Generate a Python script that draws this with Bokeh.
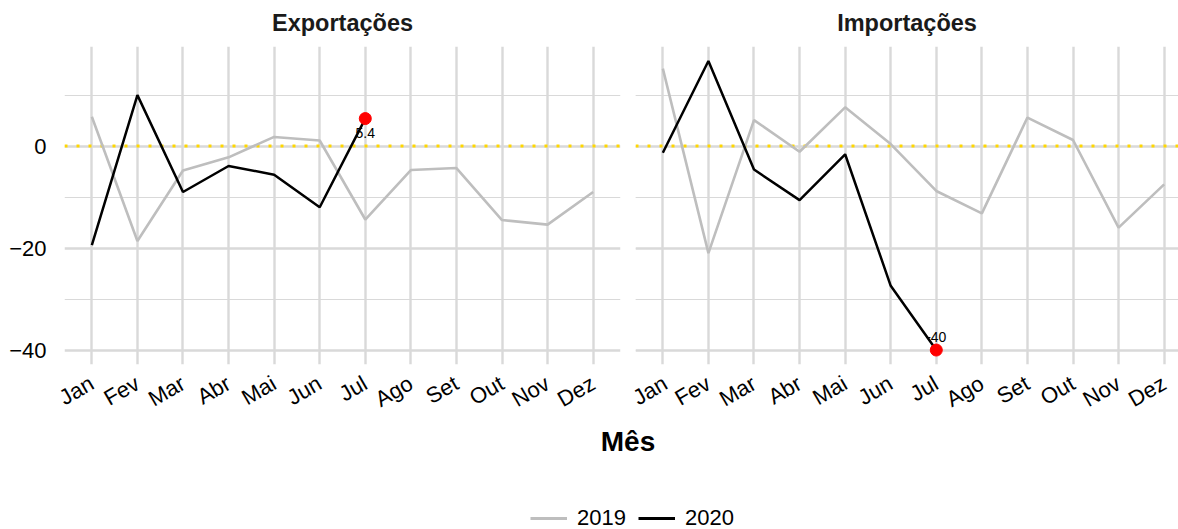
import math
import numpy as np
from bokeh.plotting import figure
from bokeh.models import (Range1d, FixedTicker, Grid, Span, Legend, LegendItem,
                          Label)
from bokeh.layouts import column, row
from bokeh.embed import file_html
from bokeh.resources import INLINE
from bokeh.core.properties import value

# ---------------- data ----------------
months = ["Jan", "Fev", "Mar", "Abr", "Mai", "Jun", "Jul", "Ago", "Set", "Out", "Nov", "Dez"]
panels = ["Exportações", "Importações"]
exp_2019 = [5.75, -18.6, -4.8, -2.2, 1.8, 1.1, -14.4, -4.7, -4.3, -14.5, -15.4, -9.0]
exp_2020 = [-19.4, 10.0, -9.0, -3.9, -5.6, -12.0, 5.4]
imp_2019 = [15.2, -21.0, 5.1, -1.1, 7.6, 0.4, -8.8, -13.2, 5.6, 1.2, -16.0, -7.5]
imp_2020 = [-1.3, 16.7, -4.6, -10.6, -1.6, -27.4, -40.0]
last_labels = ["5.4", "-40"]
series_names = ["2019", "2020"]
y_major = [-40, -20, 0]
y_minor = [-30, -10, 10]
y_major_text = {-40: "\u221240", -20: "\u221220", 0: "0"}

FONT = "Liberation Sans"
GRID = "#d9d9d9"
C2019 = "#bebebe"
C2020 = "#000000"

x_idx = list(range(1, len(months) + 1))
all_vals = exp_2019 + exp_2020 + imp_2019 + imp_2020
lo, hi = min(all_vals), max(all_vals)
pad = 0.05 * (hi - lo)
ylo, yhi = lo - pad, hi + pad

PX_PER_UNIT = 556 / 12.2
TOP, FRAME_H, BOTTOM = 46, 318, 60


def make_panel(title, v2019, v2020, lab, lab_off, frame_w, show_y, mbl, mbr):
    x_end = 0.4 + frame_w / PX_PER_UNIT
    p = figure(frame_width=frame_w, frame_height=FRAME_H,
               x_range=Range1d(0.4, x_end), y_range=Range1d(ylo, yhi),
               output_backend="svg", toolbar_location=None,
               min_border_left=mbl, min_border_right=mbr,
               min_border_top=TOP, min_border_bottom=BOTTOM,
               y_axis_location="left" if show_y else None)
    p.outline_line_color = None
    p.background_fill_color = "white"
    p.border_fill_color = "white"

    p.title.text = title
    p.title.align = "center"
    p.title.vertical_align = "top"
    p.title.text_font = FONT
    p.title.text_font_size = "23.5px"
    p.title.text_font_style = "bold"
    p.title.text_color = "#1a1a1a"
    p.title.standoff = 17

    xt = FixedTicker(ticks=x_idx)
    p.xaxis.ticker = xt
    p.xaxis.major_label_overrides = {i: m for i, m in zip(x_idx, months)}
    p.xaxis.major_label_orientation = math.pi / 6
    p.xaxis.major_label_text_font = FONT
    p.xaxis.major_label_text_font_size = "22px"
    p.xaxis.major_label_text_color = "#000000"
    p.xaxis.major_label_standoff = 17
    p.xaxis.axis_line_color = None
    p.xaxis.major_tick_line_color = None
    p.xaxis.minor_tick_line_color = None
    p.xaxis.major_tick_out = 0
    p.xaxis.major_tick_in = 0
    p.xgrid.ticker = xt
    p.xgrid.grid_line_color = GRID
    p.xgrid.grid_line_width = 2.4

    yt = FixedTicker(ticks=y_major, minor_ticks=y_minor)
    if show_y:
        p.yaxis.ticker = yt
        p.yaxis.major_label_overrides = y_major_text
        p.yaxis.major_label_text_font = FONT
        p.yaxis.major_label_text_font_size = "22px"
        p.yaxis.major_label_text_color = "#000000"
        p.yaxis.major_label_standoff = 14
        p.yaxis.axis_line_color = None
        p.yaxis.major_tick_line_color = None
        p.yaxis.minor_tick_line_color = None
        p.yaxis.major_tick_out = 0
        p.yaxis.major_tick_in = 0
        p.ygrid.ticker = yt
        g = p.ygrid[0]
    else:
        g = Grid(dimension=1, ticker=yt)
        p.add_layout(g)
    g.grid_line_color = GRID
    g.grid_line_width = 2.4
    g.minor_grid_line_color = GRID
    g.minor_grid_line_width = 1.2

    zero = Span(location=0, dimension="width", line_color="#FFD700",
                line_width=3, line_dash="3 9", level="underlay")
    p.add_layout(zero)

    n20 = len(v2020)
    p.text(x=[x_idx[n20 - 1]], y=[v2020[-1]], text=[lab], text_align="center",
           text_baseline="middle", y_offset=lab_off, text_font=value(FONT),
           text_font_size="14px", text_color="#000000")
    p.line(x_idx, v2019, line_color=C2019, line_width=2.6)
    p.line(x_idx[:n20], v2020, line_color=C2020, line_width=2.5)
    p.scatter([x_idx[n20 - 1]], [v2020[-1]], size=12, color="#ff0000")
    return p


p1 = make_panel(panels[0], exp_2019, exp_2020, last_labels[0], 14, 556, True, 64, 8)
p2 = make_panel(panels[1], imp_2019, imp_2020, last_labels[1], -13, 543, False, 7, 0)

# bottom strip: shared axis title and legend
W3 = 1178
H3 = 529 - (TOP + FRAME_H + BOTTOM)
p3 = figure(width=W3, height=H3, x_range=Range1d(0, W3), y_range=Range1d(0, H3),
            output_backend="svg", toolbar_location=None, min_border=0,
            x_axis_location=None, y_axis_location=None)
p3.outline_line_color = None
p3.xgrid.visible = False
p3.ygrid.visible = False
p3.add_layout(Label(x=627.5, y=H3 - 16, text="Mês", text_align="center",
                    text_baseline="middle", text_font=FONT, text_font_size="28px",
                    text_font_style="bold", text_color="#000000"))
# legend-only renderers, kept outside the visible range
r1 = p3.line([-20, -10], [-20, -20], line_color=C2019, line_width=3)
r2 = p3.line([-20, -10], [-20, -20], line_color=C2020, line_width=3)
leg = Legend(items=[LegendItem(label=series_names[0], renderers=[r1]),
                    LegendItem(label=series_names[1], renderers=[r2])],
             orientation="horizontal", location=(530, -1),
             glyph_width=37, glyph_height=20, label_height=20,
             label_text_font=FONT, label_text_font_size="22px",
             label_text_color="#000000", label_standoff=10, spacing=12,
             padding=0, margin=0, border_line_color=None,
             background_fill_alpha=0)
p3.add_layout(leg)

layout = column(row(p1, p2), p3)
open("out.html", "w").write(file_html(layout, INLINE))
